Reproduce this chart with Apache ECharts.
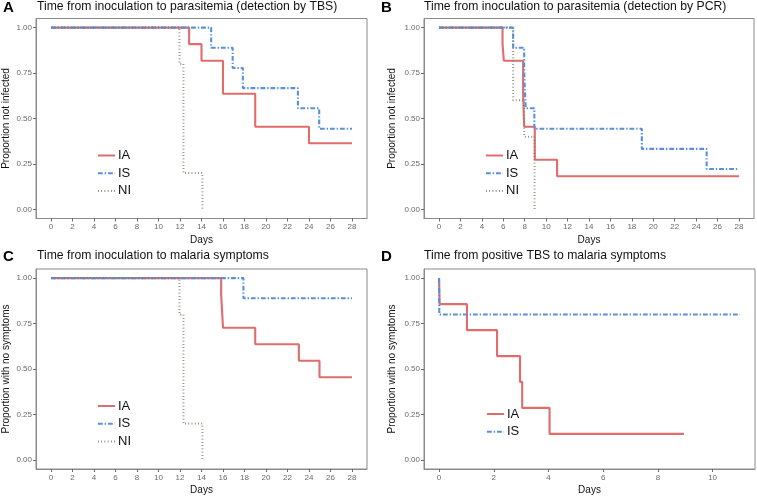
<!DOCTYPE html>
<html>
<head>
<meta charset="utf-8">
<script src="https://cdn.jsdelivr.net/npm/echarts@6/dist/echarts.min.js"></script>
<style>
html,body{margin:0;padding:0;background:#fff;}
#chart{width:757px;height:497px;}
</style>
</head>
<body>
<div id="chart"></div>
<script>
// ---- Data (Kaplan-Meier step points: time, proportion) ----
const seriesNames = ['IA', 'IS', 'NI'];
const panelLetters = ['A', 'B', 'C', 'D'];
const panelTitles = [
  'Time from inoculation to parasitemia (detection by TBS)',
  'Time from inoculation to parasitemia (detection by PCR)',
  'Time from inoculation to malaria symptoms',
  'Time from positive TBS to malaria symptoms'
];
const yAxisTitles = ['Proportion not infected', 'Proportion not infected', 'Proportion with no symptoms', 'Proportion with no symptoms'];
const xAxisTitle = 'Days';
const yTicks = [0, 0.25, 0.5, 0.75, 1];
const xTicks28 = [0, 2, 4, 6, 8, 10, 12, 14, 16, 18, 20, 22, 24, 26, 28];
const xTicks11 = [0, 2, 4, 6, 8, 10];

// Panel A: TBS
const aIA_t = [0, 12.85, 14, 16, 19, 24, 28];
const aIA_s = [1, 0.909, 0.818, 0.636, 0.455, 0.364, 0.364];
const aIS_t = [0, 14.9, 16.9, 17.85, 22.97, 24.95, 28];
const aIS_s = [1, 0.889, 0.778, 0.667, 0.556, 0.444, 0.444];
const aNI_t = [0, 11.95, 12.32, 14.09];
const aNI_s = [1, 0.8, 0.2, 0];

// Panel B: PCR
const bIA_t = [0, 5.93, 6.05, 7.85, 7.95, 8.94, 11.02, 28];
const bIA_s = [1, 0.909, 0.818, 0.636, 0.455, 0.273, 0.182, 0.182];
const bIS_t = [0, 6.92, 7.95, 8.0, 8.1, 8.9, 18.93, 24.98, 28];
const bIS_s = [1, 0.889, 0.778, 0.667, 0.556, 0.444, 0.333, 0.222, 0.222];
const bNI_t = [0, 6.92, 7.95, 8.92];
const bNI_s = [1, 0.6, 0.4, 0];

// Panel C: symptoms
const cIA_t = [0, 15.83, 16.0, 19.0, 23.06, 24.98, 28];
const cIA_s = [1, 0.909, 0.727, 0.636, 0.545, 0.455, 0.455];
const cIS_t = [0, 17.9, 28];
const cIS_s = [1, 0.889, 0.889];
const cNI_t = [0, 11.95, 12.32, 14.09];
const cNI_s = [1, 0.8, 0.2, 0];

// Panel D: positive TBS to symptoms
const dIA_t = [0, 0.02, 1.02, 2.12, 2.96, 3.04, 4.04, 8.95];
const dIA_s = [1, 0.857, 0.714, 0.571, 0.429, 0.286, 0.143, 0.143];
const dIS_t = [0, 0.01, 11];
const dIS_s = [1, 0.8, 0.8];

// ---- Styles ----
const FONT = 'Liberation Sans, Arial, sans-serif';
const colors = { IA: '#E06C6C', IS: '#5A8FDC', NI: '#767E68' };
// note: dash arrays are multiplied by line width in zrender
const lineStyles = {
  IA: { width: 2.1, type: 'solid' },
  IS: { width: 2.1, type: [4.8, 1.9, 1.4, 1.9] },
  NI: { width: 2, type: [0.8, 2.45] }
};

function pts(t, s) { return t.map((v, i) => [v, s[i]]); }

const panels = [
  { grid: { left: 36, top: 18.5, width: 331, height: 200 }, xr: [-1.4, 29.4], xt: xTicks28, yGap: 25,
    series: { IA: pts(aIA_t, aIA_s), IS: pts(aIS_t, aIS_s), NI: pts(aNI_t, aNI_s) },
    legend: { left: 97, top: 149 }, title: { lx: 3, tx: 37, top: 0 } },
  { grid: { left: 424, top: 18.5, width: 330, height: 200 }, xr: [-1.4, 29.4], xt: xTicks28, yGap: 27,
    series: { IA: pts(bIA_t, bIA_s), IS: pts(bIS_t, bIS_s), NI: pts(bNI_t, bNI_s) },
    legend: { left: 485, top: 149 }, title: { lx: 381, tx: 424, top: 0 } },
  { grid: { left: 36, top: 269, width: 331, height: 200 }, xr: [-1.4, 29.4], xt: xTicks28, yGap: 25,
    series: { IA: pts(cIA_t, cIA_s), IS: pts(cIS_t, cIS_s), NI: pts(cNI_t, cNI_s) },
    legend: { left: 97, top: 399.5 }, title: { lx: 3, tx: 37, top: 249 } },
  { grid: { left: 424, top: 269, width: 331, height: 200 }, xr: [-0.55, 11.55], xt: xTicks11, yGap: 27,
    series: { IA: pts(dIA_t, dIA_s), IS: pts(dIS_t, dIS_s) },
    legend: { left: 486, top: 407.5 }, title: { lx: 381, tx: 424, top: 249 } }
];

const option = {
  animation: false,
  backgroundColor: '#fff',
  textStyle: { fontFamily: FONT },
  title: [], grid: [], xAxis: [], yAxis: [], series: [], legend: []
};

panels.forEach((p, i) => {
  option.title.push({ text: panelLetters[i], left: p.title.lx, top: p.title.top, padding: 0,
    textStyle: { fontSize: 15, fontWeight: 'bold', color: '#000', fontFamily: FONT } });
  option.title.push({ text: panelTitles[i], left: p.title.tx, top: p.title.top + 1, padding: 0,
    textStyle: { fontSize: 12.2, fontWeight: 'normal', color: '#111', fontFamily: FONT } });
  option.grid.push(Object.assign({ show: true, borderColor: '#8a8a8a', borderWidth: 1, backgroundColor: '#fff',
    containLabel: false, outerBoundsMode: 'none' }, p.grid));
  option.xAxis.push({
    type: 'value', gridIndex: i, min: p.xr[0], max: p.xr[1],
    name: xAxisTitle, nameLocation: 'middle', nameGap: 16.5,
    nameTextStyle: { fontSize: 10, color: '#111', fontFamily: FONT },
    axisLine: { show: true, onZero: false, lineStyle: { color: '#8a8a8a', width: 1 } },
    axisTick: { show: true, length: 3, lineStyle: { color: '#6a6a6a' }, customValues: p.xt },
    axisLabel: { fontSize: 8, color: '#6a6a6a', margin: 4.5, customValues: p.xt, fontFamily: FONT },
    splitLine: { show: false }
  });
  option.yAxis.push({
    type: 'value', gridIndex: i, min: -0.05, max: 1.05,
    name: yAxisTitles[i], nameLocation: 'middle', nameGap: p.yGap,
    nameTextStyle: { fontSize: 10, color: '#111', fontFamily: FONT },
    axisLine: { show: true, onZero: false, lineStyle: { color: '#8a8a8a', width: 1 } },
    axisTick: { show: true, length: 3, lineStyle: { color: '#6a6a6a' }, customValues: yTicks },
    axisLabel: { fontSize: 8, color: '#6a6a6a', margin: 4, customValues: yTicks, fontFamily: FONT,
      formatter: v => v.toFixed(2) },
    splitLine: { show: false }
  });
  const names = Object.keys(p.series);
  names.forEach(n => {
    option.series.push({
      type: 'line', name: n, xAxisIndex: i, yAxisIndex: i, step: 'end',
      data: p.series[n], showSymbol: false, symbol: 'none',
      lineStyle: Object.assign({ color: colors[n] }, lineStyles[n]),
      itemStyle: { color: colors[n] },
      z: n === 'IA' ? 2 : (n === 'IS' ? 3 : 4)
    });
  });
  option.legend.push({
    orient: 'vertical', left: p.legend.left, top: p.legend.top, padding: 0,
    data: names, itemWidth: 17, itemHeight: 12, itemGap: 4.7, selectedMode: false,
    itemStyle: { opacity: 0, color: 'transparent', borderWidth: 0 },
    textStyle: { fontSize: 13, color: '#111', fontFamily: FONT, padding: [0, 0, 0, -2] }
  });
});

const chart = echarts.init(document.getElementById('chart'), null, { renderer: 'canvas' });
chart.setOption(option);
</script>
</body>
</html>
